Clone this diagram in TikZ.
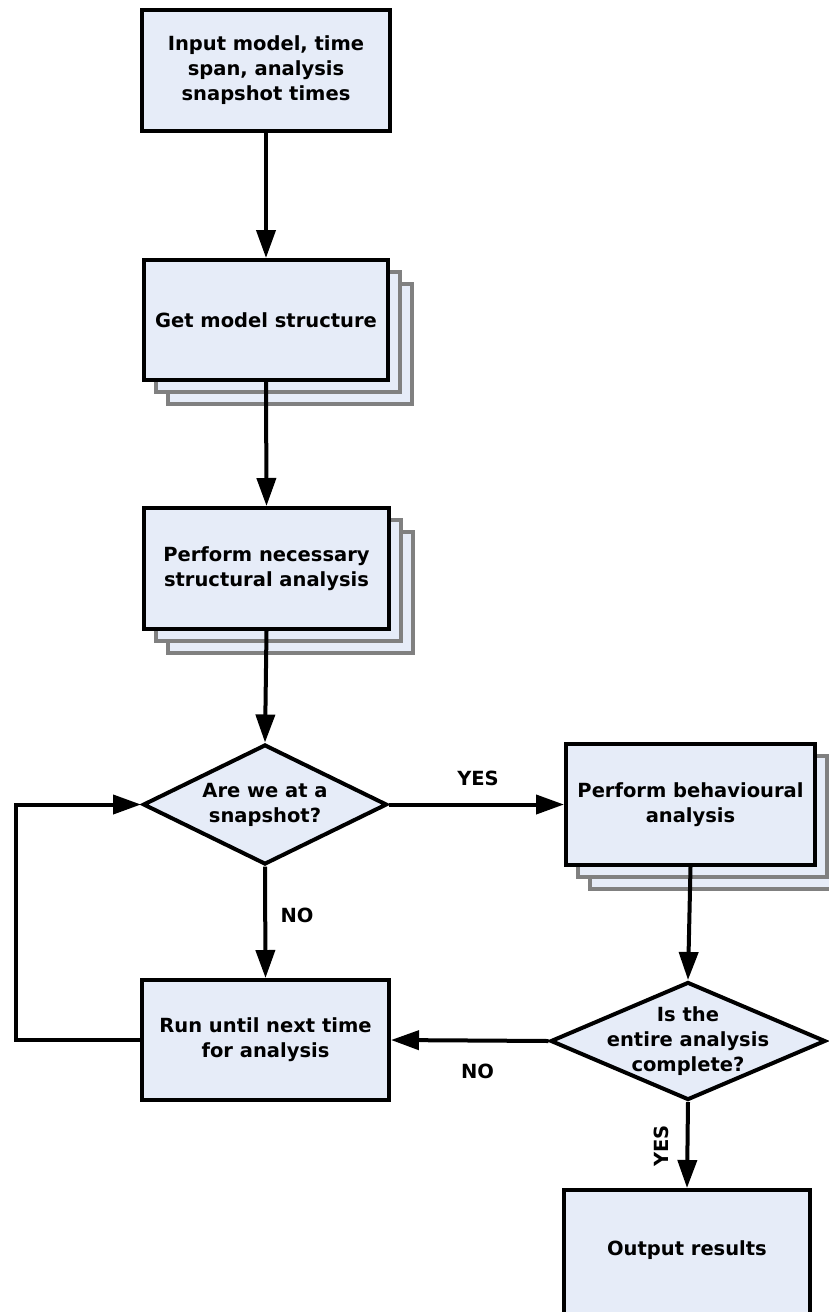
\documentclass[tikz,border=0pt]{standalone}
\usepackage{fontspec}
\setmainfont{DejaVu Sans}
\usetikzlibrary{arrows.meta,shapes.geometric}
\pgfdeclarelayer{back}
\pgfdeclarelayer{bg}
\pgfsetlayers{back,bg,main}
\definecolor{boxfill}{RGB}{230,236,248}
\definecolor{shadowgray}{RGB}{128,128,128}
\newcommand\stackshadow[1]{%
  \begin{pgfonlayer}{bg}
    \foreach \d in {24,12} {%
      \draw[shadowbox] ([shift={(\d+2,\d+2)}]#1.north west) rectangle ([shift={(\d-2,\d-2)}]#1.south east);
    }
  \end{pgfonlayer}}
\begin{document}
\begin{tikzpicture}[x=1pt,y=-1pt,
  txtfont/.style={font=\bfseries\fontsize{19.5}{25}\selectfont},
  base/.style={draw=black, line width=4pt, fill=boxfill, txtfont, align=center},
  proc/.style={base, rectangle, minimum width=248pt, minimum height=121pt, inner sep=0pt},
  dia/.style={base, diamond, inner sep=0pt},
  txt/.style={txtfont, align=center, inner sep=0pt},
  lbl/.style={txtfont, inner sep=0pt},
  shadowbox/.style={draw=shadowgray, line width=3.5pt, fill=boxfill},
  arr/.style={line width=4pt, -{Triangle[length=28pt,width=19pt]}}
]
\useasboundingbox (0,0) rectangle (828,1312);
\begin{pgfonlayer}{back}
\fill[white] (0,0) rectangle (828,1312);
\end{pgfonlayer}

% process boxes
\node[proc] (b1) at (266,70.5) {Input model, time\\span, analysis\\snapshot times};
\node[proc, minimum width=244pt, minimum height=120pt] (b2) at (266,320) {Get model structure};
\stackshadow{b2}
\node[proc, minimum width=245pt, minimum height=121pt] (b3) at (266.5,568.5) {Perform necessary\\structural analysis};
\stackshadow{b3}
\node[dia, minimum width=244pt, minimum height=120pt] (d1) at (265,804.5) {};
\node[txt] (d1t) at (d1.center) {Are we at a\\snapshot?};
\node[proc, minimum width=247pt, minimum height=120pt] (b4) at (265.5,1040) {Run until next time\\for analysis};
\node[proc, minimum width=249pt, minimum height=121pt] (b5) at (690.5,804.5) {Perform behavioural\\analysis};
\stackshadow{b5}
\node[dia, minimum width=275pt, minimum height=118pt] (d2) at (688,1041) {};
\node[txt] (d2t) at (d2.center) {Is the\\entire analysis\\complete?};
\node[proc, minimum width=246pt, minimum height=130pt] (b6) at (687,1255) {};
\node[txt] (b6t) at (687,1250) {Output results};

% loop corner
\coordinate (lp) at (16,1040);

% connectors
\draw[arr] (b1.south) -- (b2.north);
\draw[arr] (b2.south) -- (b3.north);
\draw[arr] (b3.south) -- (d1.north);
\draw[arr] (d1.east) -- (b5.west);
\draw[arr] (d1.south) -- (b4.north);
\draw[arr] (b5.south) -- (d2.north);
\draw[arr] (d2.west) -- (b4.east);
\draw[arr] (d2.south) -- (b6.north);
\draw[arr] (b4.west) -- (lp) |- (d1.west);

% labels
\node[lbl] (yes1) at (478,778) {YES};
\node[lbl] (no1) at (297,915.5) {NO};
\node[lbl] (no2) at (477.5,1071) {NO};
\node[lbl, rotate=90] (yes2) at (661,1146) {YES};
\end{tikzpicture}
\end{document}
